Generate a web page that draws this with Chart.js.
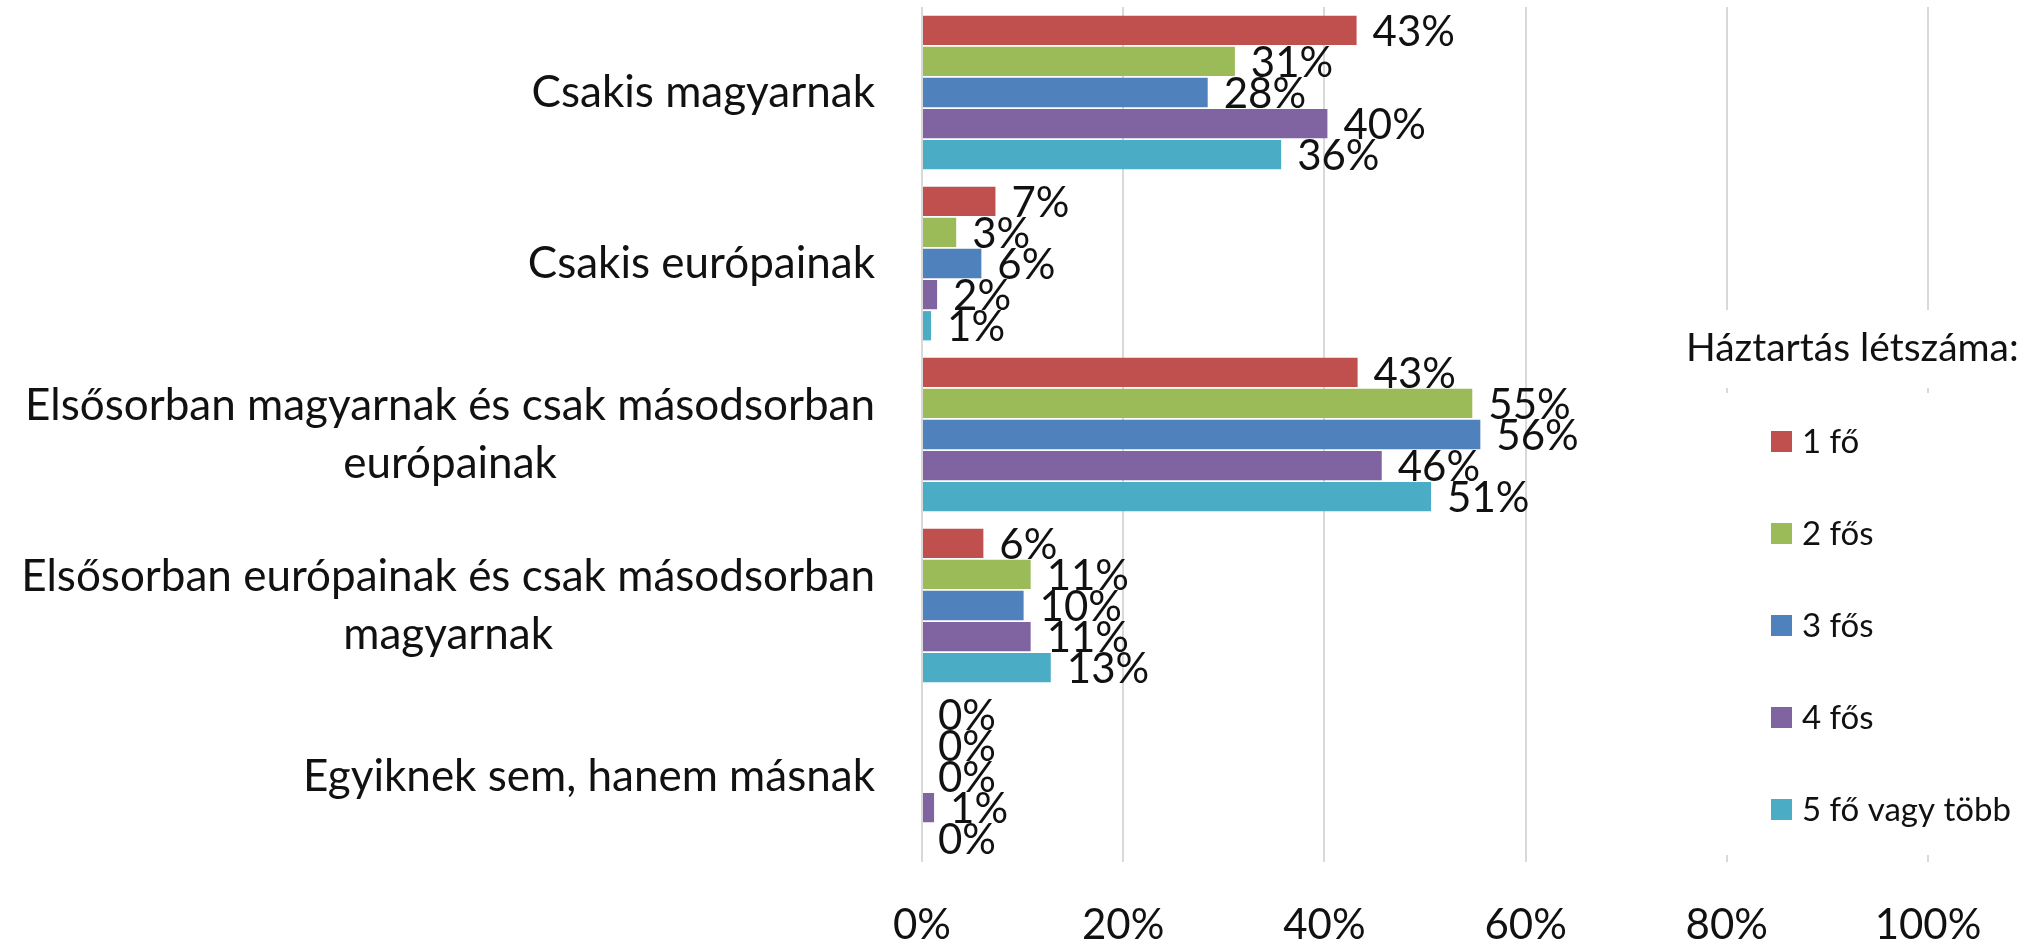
<!DOCTYPE html>
<html>
<head>
<meta charset="utf-8">
<script src="https://cdn.jsdelivr.net/npm/chart.js@4"></script>
<style>
  html, body { margin: 0; padding: 0; background: #fff; }
  #wrap { width: 2033px; height: 942px; }
</style>
</head>
<body>
<div id="wrap"><canvas id="grafico"></canvas></div>
<script>
// categories and series
const categories = [
  ['Csakis magyarnak'],
  ['Csakis európainak'],
  ['Elsősorban magyarnak és csak másodsorban', 'európainak'],
  ['Elsősorban európainak és csak másodsorban', 'magyarnak'],
  ['Egyiknek sem, hanem másnak']
];
const seriesNames = ['1 fő', '2 fős', '3 fős', '4 fős', '5 fő vagy több'];
const seriesColors = ['#C0504D', '#9BBB59', '#4F81BD', '#8064A2', '#4BACC6'];

const egyFo    = [43.2, 7.3, 43.3, 6.1, 0];
const ketFos   = [31.1, 3.4, 54.7, 10.8, 0];
const haromFos = [28.4, 5.9, 55.5, 10.1, 0];
const negyFos  = [40.3, 1.5, 45.7, 10.8, 1.2];
const otFo     = [35.7, 0.9, 50.6, 12.8, 0];
const seriesValues = [egyFo, ketFos, haromFos, negyFos, otFo];

const xTicks = [0, 20, 40, 60, 80, 100];

const FONT = 'Lato, "Open Sans", sans-serif';

// data labels next to the bars
const valueLabels = {
  id: 'valueLabels',
  afterDatasetsDraw(chart) {
    const ctx = chart.ctx;
    ctx.save();
    ctx.font = '42px ' + FONT;
    ctx.fillStyle = '#111';
    ctx.textAlign = 'left';
    ctx.textBaseline = 'middle';
    chart.data.datasets.forEach((ds, di) => {
      const meta = chart.getDatasetMeta(di);
      meta.data.forEach((bar, i) => {
        ctx.fillText(Math.round(ds.data[i]) + '%', bar.x + 16, bar.y + 2);
      });
    });
    ctx.restore();
  }
};

// category labels: block right aligned, lines centered
const categoryLabels = {
  id: 'categoryLabels',
  afterDraw(chart) {
    const ctx = chart.ctx;
    const y = chart.scales.y;
    ctx.save();
    ctx.font = '44px ' + FONT;
    ctx.fillStyle = '#111';
    ctx.textAlign = 'center';
    ctx.textBaseline = 'middle';
    const right = y.right - 47;
    const lh = 58;
    chart.data.labels.forEach((lines, i) => {
      const cy = y.getPixelForTick(i);
      const w = Math.max(...lines.map(l => ctx.measureText(l).width));
      const cx = right - w / 2;
      lines.forEach((l, k) => {
        ctx.fillText(l, cx, cy + (k - (lines.length - 1) / 2) * lh);
      });
    });
    ctx.restore();
  }
};

// legend drawn over the plot, like the original
const sideLegend = {
  id: 'sideLegend',
  afterDraw(chart) {
    const ctx = chart.ctx;
    ctx.save();
    ctx.fillStyle = '#fff';
    ctx.fillRect(1690, 310, 343, 78);
    ctx.fillRect(1690, 393, 343, 462);
    ctx.fillStyle = '#111';
    ctx.font = '39px ' + FONT;
    ctx.textAlign = 'left';
    ctx.textBaseline = 'middle';
    ctx.fillText('Háztartás létszáma:', 1686, 348);
    ctx.font = '33px ' + FONT;
    chart.data.datasets.forEach((ds, i) => {
      const cy = 441 + i * 92;
      ctx.fillStyle = ds.backgroundColor;
      ctx.fillRect(1771, cy - 10, 21, 21);
      ctx.fillStyle = '#111';
      ctx.fillText(ds.label, 1802, cy + 1);
    });
    ctx.restore();
  }
};

const ctx = document.getElementById('grafico').getContext('2d');
new Chart(ctx, {
  type: 'bar',
  data: {
    labels: categories,
    datasets: seriesNames.map((name, i) => ({
      label: name,
      data: seriesValues[i],
      backgroundColor: seriesColors[i],
      borderWidth: 0,
      barPercentage: 0.94,
      categoryPercentage: 0.91
    }))
  },
  options: {
    indexAxis: 'y',
    responsive: true,
    maintainAspectRatio: false,
    animation: false,
    layout: { padding: { top: 7, right: 105, left: 0, bottom: 0 } },
    scales: {
      x: {
        min: 0,
        max: 100,
        afterBuildTicks(scale) {
          scale.ticks = xTicks.map(v => ({ value: v }));
        },
        afterFit(scale) { scale.height = 80; },
        grid: { color: '#D9D9D9', lineWidth: 2, drawTicks: false },
        border: { display: false },
        ticks: {
          padding: 38,
          color: '#111',
          font: { family: FONT, size: 42 },
          callback: v => v + '%'
        }
      },
      y: {
        afterFit(scale) { scale.width = 922; },
        grid: { display: false },
        border: { display: false },
        ticks: { display: false }
      }
    },
    plugins: {
      legend: { display: false },
      tooltip: { enabled: false }
    }
  },
  plugins: [valueLabels, categoryLabels, sideLegend]
});
</script>
</body>
</html>
